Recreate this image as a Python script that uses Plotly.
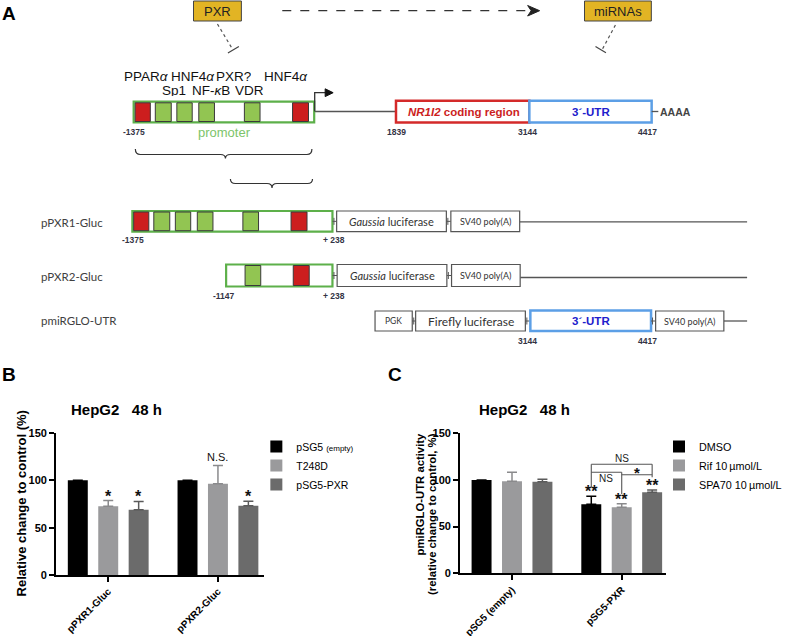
import plotly.graph_objects as go

# ---------------- data ----------------
b_groups = ["pPXR1-Gluc", "pPXR2-Gluc"]
b_names = ["pSG5 <span style='font-size:8px'>(empty)</span>", "T248D", "pSG5-PXR"]
b_empty = [100, 100]
b_t248d = [72.5, 96.5]
b_pxr = [68.8, 73.1]
b_empty_err = [0, 0]
b_t248d_err = [6.2, 19.3]
b_pxr_err = [8.9, 4.9]
b_empty_sig = ["", ""]
b_t248d_sig = ["*", "N.S."]
b_pxr_sig = ["*", "*"]
b_ytitle = "Relative change to control (%)"

c_groups = ["pSG5 (empty)", "pSG5-PXR"]
c_names = ["DMSO", "Rif 10\u2009µmol/L", "SPA70 10\u2009µmol/L"]
c_dmso = [100, 73.9]
c_rif = [98.6, 70.7]
c_spa = [98.2, 86.8]
c_dmso_err = [0, 8.6]
c_rif_err = [9.6, 3.9]
c_spa_err = [2.5, 2.5]
c_dmso_sig = ["", "**"]
c_rif_sig = ["", "**"]
c_spa_sig = ["", "**"]
c_pair_labels = ["NS", "NS", "*"]   # DMSO vs SPA70, DMSO vs Rif, Rif vs SPA70
c_ytitle = ["pmiRGLO-UTR activity", "(relative change to control, %)"]

y_ticks = [0, 50, 100, 150]
chart_title = "HepG2\u00a0\u00a0 48\u00a0h"

tf_row1 = ["PPAR<i>α</i>", "HNF4<i>α</i>", "PXR?", "HNF4<i>α</i>"]
tf_row2 = ["Sp1", "NF-<i>κ</i>B", "VDR"]
gene_pos_labels = ["-1375", "1839", "3144", "4417"]
construct_names = ["pPXR1-Gluc", "pPXR2-Gluc", "pmiRGLO-UTR"]
construct_pos_labels = ["-1375", "+ 238", "-1147", "+ 238", "3144", "4417"]

# ---------------- helpers ----------------
W, H = 787, 636
ARIAL = "Liberation Sans, Arial, sans-serif"
CALI = "Lato, Liberation Sans, sans-serif"


def X(px):
    return px / W


def Y(py):
    return 1 - py / H


shapes = []
annotations = []


def rect(x0, y0, x1, y1, fill="white", line="#444444", lw=1):
    shapes.append(dict(type="rect", xref="paper", yref="paper",
                       x0=X(x0), x1=X(x1), y0=Y(y1), y1=Y(y0),
                       fillcolor=fill, line=dict(color=line, width=lw)))


def seg(x0, y0, x1, y1, color="#555555", lw=1, dash=None):
    ln = dict(color=color, width=lw)
    if dash:
        ln["dash"] = dash
    shapes.append(dict(type="line", xref="paper", yref="paper",
                       x0=X(x0), x1=X(x1), y0=Y(y0), y1=Y(y1), line=ln))


def path(cmds, fill=None, color="#333333", lw=1):
    s = ""
    for c in cmds:
        if isinstance(c, str):
            s += c
        else:
            s += "%.5f,%.5f " % (X(c[0]), Y(c[1]))
    d = dict(type="path", xref="paper", yref="paper", path=s,
             line=dict(color=color, width=lw))
    if fill:
        d["fillcolor"] = fill
    shapes.append(d)


def text(x, y, t, size=12, color="#111111", family=ARIAL, xanchor="center",
         weight="normal", height=None, yanchor="middle", angle=0):
    a = dict(xref="paper", yref="paper", x=X(x), y=Y(y), text=t,
             showarrow=False, xanchor=xanchor, yanchor=yanchor, textangle=angle,
             font=dict(size=size, color=color, family=family, weight=weight))
    if height:
        a["height"] = height
    annotations.append(a)


def brace(x0, x1, xm, ytop, ymid, ytip, r=5):
    path(["M", (x0, ytop), "Q", (x0, ymid), (x0 + r, ymid), "L", (xm - r, ymid),
          "Q", (xm, ymid), (xm, ytip), "Q", (xm, ymid), (xm + r, ymid),
          "L", (x1 - r, ymid), "Q", (x1, ymid), (x1, ytop)], color="#333333", lw=1.2)


def joint(xa, xb, yc):
    seg(xa, yc, xb, yc, color="#555555", lw=1)
    seg(xa + 1.5, yc - 3.5, xa + 1.5, yc + 3.5, color="#555555", lw=1)


GOLD = "#E2B424"
GREEN_FILL = "#92C552"
RED_FILL = "#CC1E1E"
PROM_GREEN = "#5DB04A"
CODE_RED = "#D42A2A"
UTR_BLUE = "#5C9FE6"

# ---------------- panel A ----------------
text(9, 14, "<b>A</b>", size=19, color="#000000")

# PXR / miRNAs boxes
rect(194, 1, 242, 21, fill=GOLD, line="#444444", lw=1)
text(218, 11, "PXR", size=13, color="#222222")
rect(586, 1, 653, 21, fill=GOLD, line="#444444", lw=1)
text(619.5, 11, "miRNAs", size=13, color="#222222")
# dashed arrow PXR -> miRNAs
seg(283, 10.7, 533, 10.7, color="#333333", lw=1.2, dash="dash")
path(["M", (541, 10.7), "L", (529, 5.5), "L", (532.5, 10.7), "L", (529, 16), "Z"],
     fill="#222222", color="#222222", lw=1)
# inhibition lines
seg(218, 24, 233, 49, color="#555555", lw=1.2, dash="dot")
seg(228.5, 53, 239.5, 46.5, color="#444444", lw=1.2)
seg(617, 25, 603.5, 50, color="#555555", lw=1.2, dash="dot")
seg(597, 46.5, 607.5, 52.7, color="#444444", lw=1.2)

# TF labels
row1_x = [146.5, 193, 234.5, 286.5]
row2_x = [174.5, 211.5, 250]
for t, x in zip(tf_row1, row1_x):
    text(x, 76, t, size=13.5, color="#111111", height=12)
for t, x in zip(tf_row2, row2_x):
    text(x, 90, t, size=13.5, color="#111111", height=12)

# promoter elements (x positions, kind)
elements = [(135.5, 150.7, "r"), (155.7, 171.7, "g"), (177.3, 192.7, "g"),
            (199.3, 215, "g"), (245, 260.7, "g"), (293.3, 309.3, "r")]

# gene line + promoter
seg(315, 111.5, 397, 111.5, color="#555555", lw=1.3)
rect(134, 101.7, 315, 122.3, fill="white", line=PROM_GREEN, lw=2.2)
for x0, x1, k in elements:
    rect(x0, 102.8, x1, 121.5, fill=RED_FILL if k == "r" else GREEN_FILL,
         line="#3a3a3a", lw=1)
# TSS arrow
path(["M", (315.5, 111.5), "L", (315.5, 92.7), "L", (327, 92.7)], color="#333333", lw=1.3)
path(["M", (334, 92.7), "L", (326, 88.8), "L", (326, 96.6), "Z"],
     fill="#111111", color="#111111", lw=1)
text(225, 132.3, "promoter", size=13, color="#7CC46A")
text(134, 132, gene_pos_labels[0], size=8.5, color="#333344", weight="bold")

# coding region & UTR
rect(397, 100.8, 530.7, 122.5, fill="white", line=CODE_RED, lw=2.5)
rect(530.7, 100.8, 653.3, 122.5, fill="white", line=UTR_BLUE, lw=2.5)
text(465, 112, "<i>NR1I2</i> coding region", size=11.5, color="#CC1E1E", weight="bold")
text(592.3, 112, "3´-UTR", size=11.5, color="#2020CC", weight="bold")
seg(653.3, 111.5, 660, 111.5, color="#555555", lw=1.3)
text(677, 111.5, "AAAA", size=10.5, color="#444444", weight="bold")
text(398, 131.7, gene_pos_labels[1], size=8.5, color="#333344", weight="bold")
text(529, 131.7, gene_pos_labels[2], size=8.5, color="#333344", weight="bold")
text(649.5, 131.7, gene_pos_labels[3], size=8.5, color="#333344", weight="bold")

# braces
brace(135.7, 312.7, 226, 149, 154.5, 158.5)
brace(231, 313.3, 272.7, 179, 183.5, 188)

# construct names
text(39, 222.3, construct_names[0], size=11.5, color="#404040", family=CALI, xanchor="left")
text(39, 276.7, construct_names[1], size=11.5, color="#404040", family=CALI, xanchor="left")
text(39, 320, construct_names[2], size=11.5, color="#404040", family=CALI, xanchor="left")

# construct 1
y0, y1 = 211, 231.7
yc = (y0 + y1) / 2
seg(521, yc + 0.5, 749, yc + 0.5, color="#555555", lw=1.3)
rect(132.7, y0, 333.3, y1, fill="white", line=PROM_GREEN, lw=2.2)
for x0, x1, k in elements:
    rect(x0 - 1.5, y0 + 1, x1 - 1.5, y1 - 1, fill=RED_FILL if k == "r" else GREEN_FILL,
         line="#3a3a3a", lw=1)
joint(333.3, 337.5, yc)
rect(337.5, y0, 447.5, y1, fill="white", line="#555555", lw=1.2)
text(392.5, yc, "<i>Gaussia</i> luciferase", size=11, color="#333333", family=CALI)
joint(447.5, 452, yc)
rect(452, y0, 521, y1, fill="white", line="#555555", lw=1.2)
text(486.5, yc, "SV40 poly(A)", size=9, color="#333333", family=CALI)
text(133, 240, construct_pos_labels[0], size=8.5, color="#333344", weight="bold")
text(335, 240, construct_pos_labels[1], size=8.5, color="#333344", weight="bold")

# construct 2
y0, y1 = 264.5, 286.5
yc = (y0 + y1) / 2
seg(521.5, yc + 2, 749, yc + 2, color="#555555", lw=1.3)
rect(226.7, y0, 333.3, y1, fill="white", line=PROM_GREEN, lw=2.2)
for x0, x1, k in elements[4:]:
    rect(x0 + 0.7, y0 + 1, x1 + 0.7, y1 - 1, fill=RED_FILL if k == "r" else GREEN_FILL,
         line="#3a3a3a", lw=1)
joint(333.3, 338, yc)
rect(338, y0, 448, y1, fill="white", line="#555555", lw=1.2)
text(393, yc, "<i>Gaussia</i> luciferase", size=11, color="#333333", family=CALI)
joint(448, 452.7, yc)
rect(452.7, y0, 521.5, y1, fill="white", line="#555555", lw=1.2)
text(487, yc, "SV40 poly(A)", size=9, color="#333333", family=CALI)
text(225, 296, construct_pos_labels[2], size=8.5, color="#333344", weight="bold")
text(335, 296, construct_pos_labels[3], size=8.5, color="#333344", weight="bold")

# construct 3
y0, y1 = 311, 331
yc = (y0 + y1) / 2
seg(725.7, yc, 749, yc, color="#555555", lw=1.3)
rect(376, y0, 413.3, y1, fill="white", line="#555555", lw=1.2)
text(394.6, yc, "PGK", size=8.5, color="#333333", family=CALI)
joint(413.3, 416.7, yc)
rect(416.7, y0, 526.7, y1, fill="white", line="#555555", lw=1.2)
text(471.7, yc, "Firefly luciferase", size=12, color="#333333", family=CALI)
joint(526.7, 531.7, yc)
rect(531.7, y0 - 0.5, 652.7, y1, fill="white", line=UTR_BLUE, lw=2.5)
text(592.2, yc, "3´-UTR", size=11.5, color="#2020CC", weight="bold")
joint(652.7, 657.3, yc)
rect(657.3, y0, 725.7, y1, fill="white", line="#555555", lw=1.2)
text(691.5, yc, "SV40 poly(A)", size=9, color="#333333", family=CALI)
text(529, 340.7, construct_pos_labels[4], size=8.5, color="#333344", weight="bold")
text(649.5, 340.7, construct_pos_labels[5], size=8.5, color="#333344", weight="bold")

# ---------------- panels B and C ----------------
text(9, 374, "<b>B</b>", size=19, color="#000000")
text(396, 374, "<b>C</b>", size=19, color="#000000")
text(117, 409, chart_title, size=15, color="#000000", weight="bold")
text(526, 409, chart_title, size=15, color="#000000", weight="bold")
# y-axis titles
text(22, 503.5, b_ytitle, size=13, color="#000000", weight="bold", angle=-90)
text(421.5, 431, c_ytitle[0], size=11.3, color="#000000", weight="bold", angle=-90,
     yanchor="top")
text(433, 431, c_ytitle[1], size=11.3, color="#000000", weight="bold", angle=-90,
     yanchor="top")

BARGAP = 0.168
BARGROUPGAP = 0.344
slot = (1 - BARGAP) / 3
offsets = [-slot, 0, slot]

COLORS = ["#000000", "#9A9A9C", "#6B6B6B"]
ERRCOLORS = ["#000000", "#8A8A8C", "#5A5A5A"]

fig = go.Figure()


def add_bars(cats, vals, errs, names, xa, ya, legend):
    for i in range(3):
        fig.add_trace(go.Bar(
            x=cats, y=vals[i], name=names[i],
            marker=dict(color=COLORS[i], line=dict(width=0)),
            error_y=dict(type="data", array=errs[i], arrayminus=[0] * len(errs[i]),
                         symmetric=False, color=ERRCOLORS[i], thickness=1.5, width=5),
            xaxis=xa, yaxis=ya, legend=legend, hoverinfo="skip"))


add_bars(b_groups, [b_empty, b_t248d, b_pxr], [b_empty_err, b_t248d_err, b_pxr_err],
         b_names, "x", "y", "legend")
add_bars(c_groups, [c_dmso, c_rif, c_spa], [c_dmso_err, c_rif_err, c_spa_err],
         c_names, "x2", "y2", "legend2")


def sig_marks(vals, errs, sigs, xref, yref):
    for i in range(3):
        for g in range(len(vals[i])):
            s = sigs[i][g]
            if not s:
                continue
            star = "*" in s
            annotations.append(dict(
                xref=xref, yref=yref, x=g + offsets[i], y=vals[i][g] + errs[i][g],
                text=s, showarrow=False, xanchor="center", yanchor="bottom",
                yshift=-6 if star else 0,
                font=dict(size=16 if star else 11, family=ARIAL, color="#111111",
                          weight="bold" if star else "normal")))


sig_marks([b_empty, b_t248d, b_pxr], [b_empty_err, b_t248d_err, b_pxr_err],
          [b_empty_sig, b_t248d_sig, b_pxr_sig], "x", "y")
sig_marks([c_dmso, c_rif, c_spa], [c_dmso_err, c_rif_err, c_spa_err],
          [c_dmso_sig, c_rif_sig, c_spa_sig], "x2", "y2")

# comparison brackets in panel C (group index 1)
xD, xR, xS = 1 + offsets[0], 1 + offsets[1], 1 + offsets[2]


def bline(x0, y0, x1, y1):
    shapes.append(dict(type="line", xref="x2", yref="y2", x0=x0, x1=x1, y0=y0, y1=y1,
                       line=dict(color="#555555", width=1.1)))


bline(xD, 116.8, xS, 116.8)
bline(xD, 116.8, xD, 92.5)
bline(xS, 116.8, xS, 103)
bline(xD, 108.3, xR, 108.3)
bline(xR, 108.3, xR, 85)
bline(xR, 105.6, xS, 105.6)
annotations.append(dict(xref="x2", yref="y2", x=xR, y=123.3, text=c_pair_labels[0],
                        showarrow=False, font=dict(size=10, family=ARIAL, color="#222222")))
annotations.append(dict(xref="x2", yref="y2", x=(xD + xR) / 2, y=101.5, text=c_pair_labels[1],
                        showarrow=False, font=dict(size=10, family=ARIAL, color="#222222")))
annotations.append(dict(xref="x2", yref="y2", x=(xR + xS) / 2, y=107.6, text=c_pair_labels[2],
                        showarrow=False, font=dict(size=15, family=ARIAL, color="#111111",
                                                   weight="bold")))

axis_common = dict(showline=True, linecolor="#000000", linewidth=1.5, ticks="outside",
                   ticklen=5, tickwidth=1.5, tickcolor="#000000", showgrid=False,
                   zeroline=False, fixedrange=True, automargin=False)
xtick_font = dict(size=10, weight="bold", family=ARIAL, color="#000000")

fig.update_layout(
    template="none",
    width=W, height=H, autosize=False,
    margin=dict(l=0, r=0, t=0, b=0, pad=0),
    paper_bgcolor="white", plot_bgcolor="white",
    barmode="group", bargap=BARGAP, bargroupgap=BARGROUPGAP,
    font=dict(family=ARIAL, color="#000000"),
    showlegend=True,
    xaxis=dict(domain=[X(56), X(265)], range=[(56 - 108.5) / 110, (265 - 108.5) / 110],
               type="category", anchor="y", tickangle=-45, tickfont=xtick_font,
               **axis_common),
    yaxis=dict(domain=[Y(575), Y(433)], range=[0, 150], tickvals=y_ticks, anchor="x",
               tickfont=dict(size=11, weight="bold", family=ARIAL, color="#000000"),
               **axis_common),
    xaxis2=dict(domain=[X(461), X(668)], range=[(461 - 513.3) / 110, (668 - 513.3) / 110],
                type="category", anchor="y2", tickangle=-45, tickfont=xtick_font,
                **axis_common),
    yaxis2=dict(domain=[Y(573.3), Y(433.3)], range=[0, 150], tickvals=y_ticks, anchor="x2",
                tickfont=dict(size=11, weight="bold", family=ARIAL, color="#000000"),
                **axis_common),
    legend=dict(x=X(257), y=Y(432), xanchor="left", yanchor="top",
                bgcolor="rgba(0,0,0,0)", font=dict(size=10.5, family=ARIAL, color="#000000"),
                itemclick=False, itemdoubleclick=False),
    legend2=dict(x=X(661), y=Y(432), xanchor="left", yanchor="top",
                 bgcolor="rgba(0,0,0,0)", font=dict(size=10.8, family=ARIAL, color="#000000"),
                 itemclick=False, itemdoubleclick=False),
    shapes=shapes,
    annotations=annotations,
)

fig.write_html("out.html", config={"displayModeBar": False},
               post_script="document.body.style.margin='0px';document.body.style.padding='0px';")
